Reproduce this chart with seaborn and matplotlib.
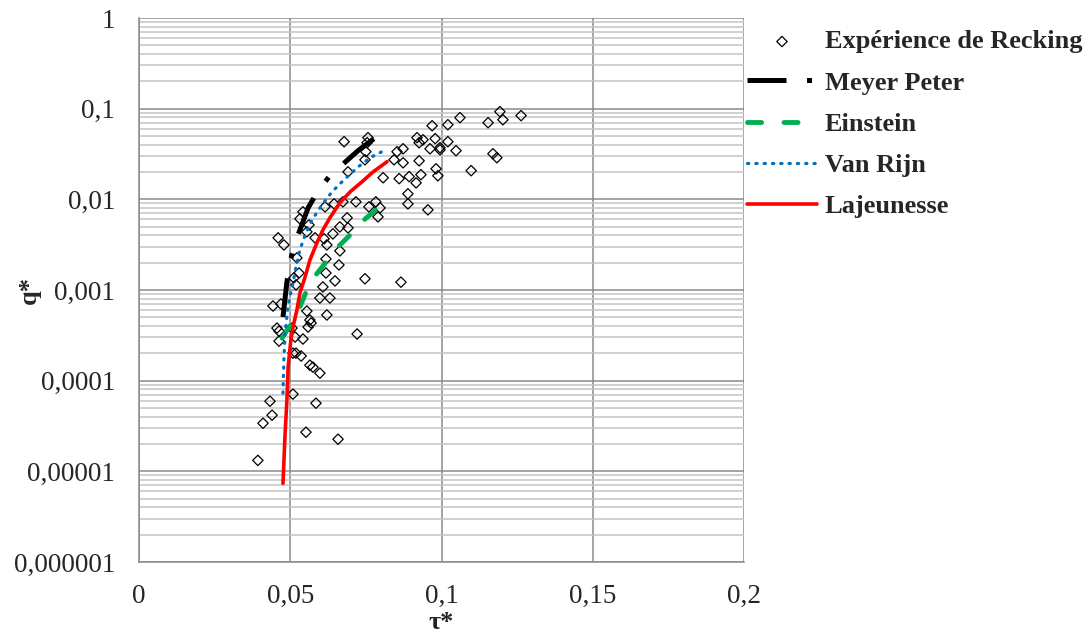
import numpy as np
import pandas as pd
import matplotlib
matplotlib.use("Agg")
import matplotlib.pyplot as plt
from matplotlib.ticker import FixedLocator, FixedFormatter, LogLocator, NullFormatter
import seaborn as sns

# Expérience de Recking
rec_tau = [0.0678, 0.0757, 0.0754, 0.0750, 0.0747, 0.0691, 0.0969, 0.1021, 0.1061, 0.1193,
           0.1203, 0.1263, 0.1154, 0.0919, 0.0939, 0.0926, 0.0979, 0.1021, 0.0995, 0.0995,
           0.0962, 0.1048, 0.0873, 0.0853, 0.0843, 0.0873, 0.0926, 0.1170, 0.1183, 0.1098,
           0.0982, 0.0988, 0.0932, 0.0893, 0.0860, 0.0807, 0.0916, 0.0889, 0.0889, 0.0955,
           0.0783, 0.0717, 0.0674, 0.0645, 0.0615, 0.0760, 0.0797, 0.0790, 0.0688, 0.0691,
           0.0664, 0.0641, 0.0612, 0.0621, 0.0664, 0.0582, 0.0562, 0.0555, 0.0542, 0.0532,
           0.0460, 0.0479, 0.0522, 0.0618, 0.0661, 0.0529, 0.0618, 0.0512, 0.0648, 0.0747,
           0.0866, 0.0608, 0.0598, 0.0631, 0.0443, 0.0469, 0.0555, 0.0621, 0.0565, 0.0569,
           0.0559, 0.0456, 0.0463, 0.0506, 0.0463, 0.0516, 0.0542, 0.0721, 0.0509, 0.0519,
           0.0536, 0.0565, 0.0575, 0.0598, 0.0509, 0.0433, 0.0585, 0.0440, 0.0410, 0.0552,
           0.0658, 0.0393, 0.0519]
rec_q = [0.0432, 0.0479, 0.0421, 0.0335, 0.0273, 0.0201, 0.0648, 0.0665, 0.0796, 0.0927,
         0.0755, 0.0838, 0.0700, 0.0479, 0.0454, 0.0421, 0.0467, 0.0432, 0.0371, 0.0352,
         0.0361, 0.0344, 0.0361, 0.0335, 0.0273, 0.0253, 0.0266, 0.0318, 0.0288, 0.0207,
         0.0217, 0.0182, 0.0187, 0.0178, 0.0169, 0.0173, 0.0152, 0.0115, 0.00891, 0.00766,
         0.00938, 0.00938, 0.00938, 0.00891, 0.00826, 0.00826, 0.00805, 0.00641, 0.00625, 0.00484,
         0.00497, 0.00416, 0.00367, 0.00314, 0.00270, 0.00376, 0.00522, 0.00438, 0.00728, 0.00610,
         0.00376, 0.00314, 0.00226, 0.00220, 0.00189, 0.00154, 0.00154, 0.00136, 0.00126, 0.00133,
         0.00122, 0.00108, 0.000816, 0.000816, 0.000666, 0.000700, 0.000586, 0.000530, 0.000466, 0.000432,
         0.000390, 0.000380, 0.000352, 0.000380, 0.000273, 0.000303, 0.000288, 0.000327, 0.000201, 0.000201,
         0.000187, 0.000148, 0.000141, 0.000121, 0.0000710, 0.0000593, 0.0000564, 0.0000416, 0.0000339, 0.0000270,
         0.0000226, 0.0000132, 0.00114]

# Meyer Peter
mp_tau = [0.0476, 0.0489, 0.0499, 0.0516, 0.0559, 0.0592, 0.0631, 0.0724, 0.0777]
mp_q = [0.000503, 0.00122, 0.00204, 0.00330, 0.00805, 0.0124, 0.0182, 0.0344, 0.0467]

# Einstein
ein_tau = [0.0473, 0.0506, 0.0532, 0.0555, 0.0585, 0.0621, 0.0658, 0.0698, 0.0740, 0.0787]
ein_q = [0.000295, 0.000443, 0.000649, 0.00100, 0.00147, 0.00209, 0.00299, 0.00405, 0.00578, 0.00785]

# Van Rijn
vr_tau = [0.0476, 0.0479, 0.0483, 0.0493, 0.0509, 0.0519, 0.0532, 0.0549, 0.0572, 0.0605,
          0.0638, 0.0671, 0.0721, 0.0764, 0.0810]
vr_q = [0.0000728, 0.000169, 0.000335, 0.000683, 0.00119, 0.00180, 0.00277, 0.00405, 0.00593, 0.00869,
        0.0121, 0.0156, 0.0223, 0.0288, 0.0345]

# Lajeunesse
laj_tau = [0.0476, 0.0483, 0.0489, 0.0493, 0.0502, 0.0509, 0.0522, 0.0532, 0.0549, 0.0565,
           0.0588, 0.0608, 0.0631, 0.0664, 0.0698, 0.0737, 0.0774, 0.0820]
laj_q = [0.00000736, 0.0000263, 0.0000609, 0.000141, 0.000281, 0.000390, 0.000601, 0.000927, 0.00139, 0.00214,
         0.00330, 0.00460, 0.00625, 0.00914, 0.0121, 0.0156, 0.0201, 0.0260]

x_ticks = [0, 0.05, 0.1, 0.15, 0.2]
x_ticklabels = ['0', '0,05', '0,1', '0,15', '0,2']
y_ticks = [1e-6, 1e-5, 1e-4, 1e-3, 1e-2, 1e-1, 1]
y_ticklabels = ['0,000001', '0,00001', '0,0001', '0,001', '0,01', '0,1', '1']

sns.set_style("white")
plt.rcParams['font.family'] = ['Liberation Serif', 'DejaVu Serif']

fig = plt.figure(figsize=(10.9, 6.34), dpi=100)
ax = fig.add_axes([0.1275, 0.1136, 0.5551, 0.858])

rec = pd.DataFrame({'tau': rec_tau, 'q': rec_q})
sns.scatterplot(data=rec, x='tau', y='q', ax=ax, marker='D', s=28,
                facecolor='none', edgecolor='black', linewidth=0.9,
                label='Expérience de Recking', zorder=3)

sns.lineplot(x=mp_tau, y=mp_q, ax=ax, sort=False, estimator=None, color='black',
             linewidth=3.6, linestyle=(0, (7.8, 4.1, 1.0, 4.1)),
             label='Meyer Peter', zorder=4)
sns.lineplot(x=ein_tau, y=ein_q, ax=ax, sort=False, estimator=None, color='#00B050',
             linewidth=3.5, linestyle=(0, (2.9, 4.6)), dash_capstyle='round',
             label='Einstein', zorder=4)
sns.lineplot(x=vr_tau, y=vr_q, ax=ax, sort=False, estimator=None, color='#0070C0',
             linewidth=2.3, linestyle=(0, (0.4, 2.2)), dash_capstyle='round',
             label='Van Rijn', zorder=4)
sns.lineplot(x=laj_tau, y=laj_q, ax=ax, sort=False, estimator=None, color='#FF0000',
             linewidth=2.6, label='Lajeunesse', zorder=4)

ax.set_yscale('log')
ax.set_xlim(0, 0.2)
ax.set_ylim(1e-6, 1)
ax.xaxis.set_major_locator(FixedLocator(x_ticks))
ax.xaxis.set_major_formatter(FixedFormatter(x_ticklabels))
ax.yaxis.set_major_locator(FixedLocator(y_ticks))
ax.yaxis.set_major_formatter(FixedFormatter(y_ticklabels))
ax.yaxis.set_minor_locator(LogLocator(base=10, subs=range(2, 10)))
ax.yaxis.set_minor_formatter(NullFormatter())

ax.grid(which='minor', axis='y', color='#c4c4c4', linewidth=1.1)
ax.grid(which='major', axis='both', color='#8a8a8a', linewidth=1.1)
ax.set_axisbelow(True)
for side in ['top', 'right']:
    ax.spines[side].set_visible(False)
for side in ['left', 'bottom']:
    ax.spines[side].set_color('#8a8a8a')
    ax.spines[side].set_linewidth(1.1)

ax.tick_params(axis='y', which='major', length=5, width=1.1, color='#8a8a8a',
               labelsize=19.5, pad=12)
ax.tick_params(axis='y', which='minor', length=0)
ax.tick_params(axis='x', which='major', length=0, labelsize=19.5, pad=16)

ax.set_xlabel('τ*', fontsize=19, fontweight='bold', labelpad=1)
ax.set_ylabel('q*', fontsize=19, fontweight='bold')
ax.yaxis.set_label_coords(-0.162, 0.5)

handles, labels = ax.get_legend_handles_labels()
if ax.legend_:
    ax.legend_.remove()
fig.legend(handles, labels, loc='upper left', bbox_to_anchor=(747 / 1090, 1 - 30 / 634),
           frameon=False, prop={'weight': 'bold', 'size': 19},
           handlelength=2.65, handletextpad=0.3, labelspacing=0.67,
           borderpad=0, borderaxespad=0)

fig.savefig('out.png', dpi=100)
